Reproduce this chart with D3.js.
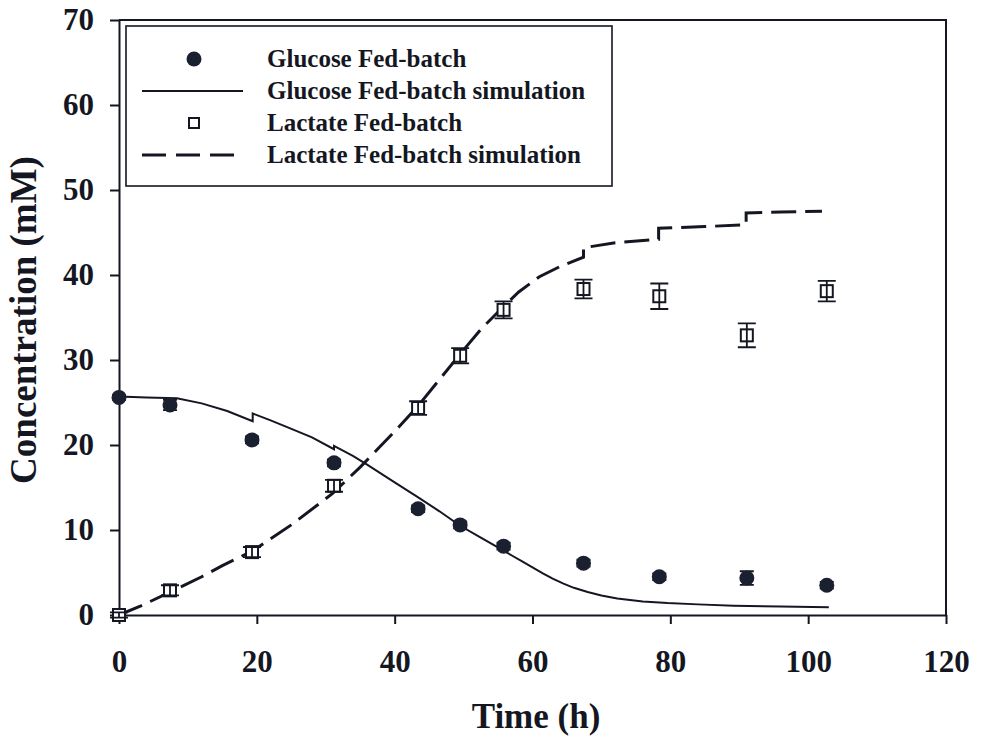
<!DOCTYPE html>
<html>
<head>
<meta charset="utf-8">
<script src="https://cdn.jsdelivr.net/npm/d3@7"></script>
<style>
  html, body { margin: 0; padding: 0; background: #ffffff; }
  svg { display: block; }
  text { font-family: "Liberation Serif", "Times New Roman", serif; font-weight: bold; fill: #141722; }
</style>
</head>
<body>
<svg id="chart" width="982" height="738"></svg>
<script>
// Sampling times (h)
const times = [0, 7.4, 19.3, 31.2, 43.4, 49.5, 55.8, 67.4, 78.4, 91.1, 102.7];

// Measured glucose (mM) and its standard deviation
const glucose = [25.6, 24.7, 20.6, 17.9, 12.5, 10.6, 8.1, 6.1, 4.5, 4.35, 3.5];
const glucoseErr = [0.3, 0.6, 0.4, 0.4, 0.4, 0.4, 0.4, 0.4, 0.4, 0.8, 0.4];

// Measured lactate (mM) and its standard deviation
const lactate = [0, 2.9, 7.4, 15.2, 24.35, 30.5, 35.9, 38.35, 37.5, 32.9, 38.1];
const lactateErr = [0.3, 0.6, 0.6, 0.7, 0.8, 0.9, 1.0, 1.1, 1.5, 1.4, 1.2];

// Model output, glucose: repeated times are feed pulses
const glucoseSimT = [0, 4, 8.4, 12, 15.7, 19.4, 19.4, 22, 24.4, 28, 31.2, 31.2, 34, 36, 40, 43.3, 46.5, 49.5, 52.5, 55.3, 57, 58.5, 60, 61.5, 63, 64.5, 66, 68, 70, 72.3, 76, 79.6, 84, 89.2, 96, 103];
const glucoseSimC = [25.7, 25.6, 25.5, 24.9, 24.0, 22.8, 23.7, 22.9, 22.1, 20.9, 19.5, 19.9, 18.7, 17.7, 15.6, 13.9, 12.2, 10.5, 9.1, 7.8, 7.0, 6.3, 5.6, 4.9, 4.25, 3.7, 3.2, 2.7, 2.3, 1.95, 1.6, 1.4, 1.25, 1.1, 1.0, 0.9];

// Model output, lactate: repeated times are feed pulses
const lactateSimT = [0, 3, 7.4, 12, 15, 19.5, 25, 31, 35, 37.5, 40, 43.4, 46, 49.5, 52.5, 55.8, 58, 61, 64, 67.4, 67.4, 72, 78.3, 78.3, 85, 91, 91, 96, 102];
const lactateSimC = [0, 1.0, 2.7, 4.5, 5.8, 7.6, 10.6, 14.3, 17.4, 19.5, 21.6, 24.6, 27.2, 30.7, 33.6, 36.3, 38.0, 39.8, 41.0, 42.1, 43.2, 43.8, 44.2, 45.5, 45.7, 45.9, 47.3, 47.4, 47.5];

// Axis ticks
const xTicks = [0, 20, 40, 60, 80, 100, 120];
const yTicks = [0, 10, 20, 30, 40, 50, 60, 70];

// Legend entries
const legendLabels = ["Glucose Fed-batch", "Glucose Fed-batch simulation", "Lactate Fed-batch", "Lactate Fed-batch simulation"];

const ink = "#141722";
const svg = d3.select("#chart");

const x = d3.scaleLinear().domain([0, 120]).range([119, 946]);
const y = d3.scaleLinear().domain([0, 70]).range([615, 20]);

// Frame (top and right edges)
svg.append("path")
  .attr("d", `M${x(0)},${y(70)}H${x(120)}V${y(0)}`)
  .attr("fill", "none").attr("stroke", ink).attr("stroke-width", 2);

// Axes
const xAxis = svg.append("g")
  .attr("transform", `translate(0,${y(0)})`)
  .call(d3.axisBottom(x).tickValues(xTicks).tickSize(9).tickSizeOuter(0).tickPadding(26).tickFormat(d3.format("d")));
const yAxis = svg.append("g")
  .attr("transform", `translate(${x(0)},0)`)
  .call(d3.axisLeft(y).tickValues(yTicks).tickSize(9).tickSizeOuter(0).tickPadding(16).tickFormat(d3.format("d")));

[xAxis, yAxis].forEach(g => {
  g.select(".domain").attr("stroke", ink).attr("stroke-width", 2);
  g.selectAll(".tick line").attr("stroke", ink).attr("stroke-width", 2);
  g.selectAll(".tick text")
    .attr("fill", ink)
    .style("font-family", '"Liberation Serif", "Times New Roman", serif')
    .style("font-weight", "bold")
    .style("font-size", "31px");
});

// Axis titles
svg.append("text")
  .attr("transform", "translate(36,320) rotate(-90)")
  .attr("text-anchor", "middle")
  .style("font-size", "37px")
  .text("Concentration (mM)");
svg.append("text")
  .attr("x", 536).attr("y", 728)
  .attr("text-anchor", "middle")
  .style("font-size", "35px")
  .text("Time (h)");

// Simulation curves
const line = d3.line().x(d => x(d[0])).y(d => y(d[1]));
svg.append("path")
  .datum(glucoseSimT.map((t, i) => [t, glucoseSimC[i]]))
  .attr("d", line)
  .attr("fill", "none").attr("stroke", ink).attr("stroke-width", 2);
svg.append("path")
  .datum(lactateSimT.map((t, i) => [t, lactateSimC[i]]))
  .attr("d", line)
  .attr("fill", "none").attr("stroke", ink).attr("stroke-width", 3)
  .attr("stroke-dasharray", "25,9");

// Error bars helper
function errorBars(vals, errs, capHalf) {
  const g = svg.append("g").attr("stroke", ink).attr("stroke-width", 1.8).attr("fill", "none");
  times.forEach((t, i) => {
    const cx = x(t), y1 = y(vals[i] + errs[i]), y2 = y(vals[i] - errs[i]);
    g.append("path").attr("d", `M${cx},${y1}V${y2}M${cx - capHalf},${y1}H${cx + capHalf}M${cx - capHalf},${y2}H${cx + capHalf}`);
  });
}

// Glucose measurements
errorBars(glucose, glucoseErr, 7);
svg.append("g").selectAll("circle")
  .data(times.map((t, i) => [t, glucose[i]]))
  .join("circle")
  .attr("cx", d => x(d[0])).attr("cy", d => y(d[1]))
  .attr("r", 7.5)
  .attr("fill", "#1b2030");

// Lactate measurements
svg.append("g").selectAll("rect")
  .data(times.map((t, i) => [t, lactate[i]]))
  .join("rect")
  .attr("x", d => x(d[0]) - 6).attr("y", d => y(d[1]) - 6)
  .attr("width", 12).attr("height", 12)
  .attr("fill", "#ffffff").attr("stroke", ink).attr("stroke-width", 2);
errorBars(lactate, lactateErr, 9);

// Legend
const lg = svg.append("g");
lg.append("rect")
  .attr("x", 126).attr("y", 26).attr("width", 486).attr("height", 160)
  .attr("fill", "#ffffff").attr("stroke", ink).attr("stroke-width", 1.6);
const rowY = [59, 91, 123, 155];
lg.append("circle").attr("cx", 194).attr("cy", rowY[0]).attr("r", 7.5).attr("fill", "#1b2030");
lg.append("line").attr("x1", 142).attr("x2", 243).attr("y1", rowY[1]).attr("y2", rowY[1])
  .attr("stroke", ink).attr("stroke-width", 2);
lg.append("rect").attr("x", 189).attr("y", rowY[2] - 5).attr("width", 10).attr("height", 10)
  .attr("fill", "#ffffff").attr("stroke", ink).attr("stroke-width", 2);
lg.append("line").attr("x1", 142).attr("x2", 243).attr("y1", rowY[3]).attr("y2", rowY[3])
  .attr("stroke", ink).attr("stroke-width", 3).attr("stroke-dasharray", "24,10");
lg.selectAll("text.lbl")
  .data(legendLabels)
  .join("text")
  .attr("class", "lbl")
  .attr("x", 267)
  .attr("y", (d, i) => rowY[i] + 8)
  .style("font-size", "25px")
  .text(d => d);
</script>
</body>
</html>
